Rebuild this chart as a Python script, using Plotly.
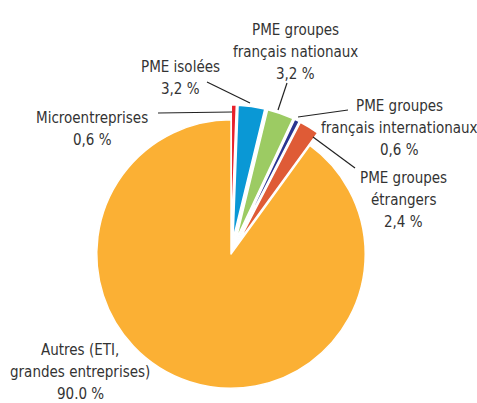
import plotly.graph_objects as go

# Répartition par catégorie d'entreprise
categories = ["Microentreprises", "PME isolées", "PME groupes<br>français nationaux",
              "PME groupes<br>français internationaux", "PME groupes<br>étrangers",
              "Autres (ETI,<br>grandes entreprises)"]
valeurs = [0.6, 3.2, 3.2, 0.6, 2.4, 90.0]
valeurs_txt = ["0,6 %", "3,2 %", "3,2 %", "0,6 %", "2,4 %", "90.0 %"]
couleurs = ["#E8212B", "#0A98D5", "#9CCB63", "#2A3590", "#DF5B36", "#FBB034"]
ecart = [0.11, 0.11, 0.11, 0.11, 0.11, 0]

W, H = 477, 403

fig = go.Figure(go.Pie(
    values=valeurs,
    labels=[c.replace("<br>", " ") for c in categories],
    sort=False,
    direction="clockwise",
    rotation=0,
    pull=ecart,
    marker=dict(colors=couleurs, line=dict(color="white", width=1.5)),
    textinfo="none",
    hoverinfo="label+value",
    showlegend=False,
    domain=dict(x=[82 / W, 380 / W], y=[0, 298 / H]),
))

# centre de la première ligne de chaque étiquette (pixels) et lignes de rappel
pos_txt = [(92, 118), (180, 67), (295, 30), (399, 106), (403, 178), (80, 350)]
rappels = [((158, 113), (232, 112)), ((207, 82), (250, 103)), ((287, 83), (278, 110)),
           ((348, 110), (298, 117)), ((355, 168), (313, 137)), None]
interligne = 22

police = "DejaVu Sans Condensed, Liberation Sans Narrow, sans-serif"

for cat, txt, (px, py), rap in zip(categories, valeurs_txt, pos_txt, rappels):
    lignes = cat.split("<br>") + [txt]
    for i, l in enumerate(lignes):
        fig.add_annotation(
            x=px / W, y=1 - (py + i * interligne) / H, xref="paper", yref="paper",
            text=l, showarrow=False,
            font=dict(family=police, size=15, color="#333333"),
            xanchor="center", yanchor="middle", align="center",
        )
    if rap:
        (x0, y0), (x1, y1) = rap
        fig.add_shape(type="line", xref="paper", yref="paper",
                      x0=x0 / W, y0=1 - y0 / H, x1=x1 / W, y1=1 - y1 / H,
                      line=dict(color="#222222", width=1.2))

fig.update_layout(
    width=W, height=H,
    margin=dict(l=0, r=0, t=0, b=0),
    paper_bgcolor="white",
    plot_bgcolor="white",
)

fig.write_html("out.html", config={"displayModeBar": False},
               post_script="document.body.style.margin='0';")
